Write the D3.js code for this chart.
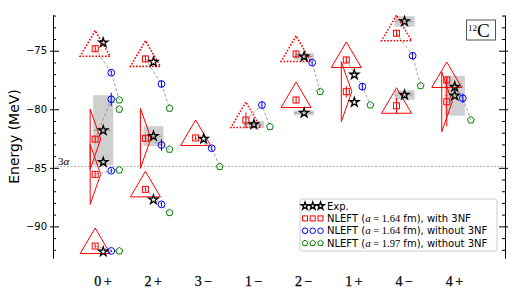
<!DOCTYPE html>
<html>
<head>
<meta charset="utf-8">
<script src="https://cdn.jsdelivr.net/npm/d3@7"></script>
<style>
  body { margin: 0; background: #fff; }
  svg { display: block; }
</style>
</head>
<body>
<div id="chart"></div>
<script>
// spin-parity categories on the x axis
const categories = ["0+", "2+", "3−", "1−", "2−", "1+", "4−", "4+"];

// experimental levels: category, energy (MeV), width (MeV)
const expCat   = [0, 0, 0, 0, 1, 1, 1, 2, 3, 4, 4, 5, 5, 6, 6, 7, 7];
const expE     = [-74.32, -81.80, -84.51, -92.16, -75.96, -82.29, -87.72, -82.52, -81.30,
                  -75.50, -80.31, -77.05, -79.40, -72.50, -78.78, -78.08, -78.84];
const expWidth = [0, 3.0, 0, 0, 0, 0.85, 0, 0, 0.3, 0.28, 0.2, 0, 0, 0.45, 0.4, 0.26, 1.7];

// NLEFT states, one entry per state (same index in every series)
const stateCat  = [0, 0, 0, 0, 1, 1, 1, 2, 3, 4, 4, 5, 5, 6, 6, 7, 7];
const with3NF   = [-74.83, -82.55, -85.56, -91.68, -75.70, -82.48, -86.84, -82.45, -80.92,
                   -75.28, -79.21, -75.79, -78.50, -73.51, -79.70, -77.50, -79.36];
const with3NFErr = [0.3, 0.3, 0.3, 0.2, 0.3, 0.3, 0.2, 0.2, 0.65, 0.3, 0.3, 0.3, 0.5, 0.3, 0.67, 0.3, 2.1];
const geometry  = ["equilateral-dotted", "obtuse", "obtuse", "equilateral",
                   "equilateral-dotted", "obtuse", "equilateral", "equilateral",
                   "equilateral-dotted", "equilateral-dotted", "equilateral",
                   "equilateral", "obtuse", "equilateral-dotted", "equilateral",
                   "equilateral", "obtuse"];
const no3NF164    = [-76.88, -79.15, -85.25, -92.10, -77.84, -83.05, -88.12, -83.33, -79.64,
                     -76.02, null, -78.07, null, -75.43, null, -79.06, null];
const no3NF164Err = [0.2, 0.57, 0.2, 0.1, 0.3, 0.5, 0.2, 0.2, 0.3, 0.2, 0, 0.3, 0, 0.3, 0, 0.4, 0];
const no3NF197    = [-79.21, -80.00, -85.19, -92.10, -79.92, -83.42, -88.83, -84.90, -81.49,
                     -78.50, null, -79.64, null, -77.99, null, -80.92, null];

const threeAlpha = -84.89;
const majorTicks = [-90, -85, -80, -75];
const minorTicks = d3.range(-92, -71, 1).filter(v => v % 5 !== 0);

const W = 532, H = 304;
const sans = "DejaVu Sans";
const serif = "Liberation Serif";

const svg = d3.select("#chart").append("svg")
  .attr("width", W)
  .attr("height", H);

const x = d3.scaleLinear().domain([-1, 8]).range([53, 505]);
const y = d3.scaleLinear().domain([-92.7, -71.95]).range([258, 15]);

// horizontal offsets of each series inside a category
const off = { nleft: -0.16, exp: 0, no164: 0.16, no197: 0.32 };

const idx = d3.range(stateCat.length);
const expIdx = d3.range(expE.length);

// grey resonance widths
const wide = expIdx.filter(i => expWidth[i] > 0);
svg.append("g").selectAll("rect")
  .data(wide)
  .join("rect")
  .attr("x", i => x(expCat[i] - 0.2))
  .attr("width", x(0.2) - x(-0.2))
  .attr("y", i => y(expE[i] + expWidth[i]))
  .attr("height", i => y(expE[i] - expWidth[i]) - y(expE[i] + expWidth[i]))
  .attr("fill", "#cfcfcf");

svg.append("g").selectAll("line")
  .data(wide)
  .join("line")
  .attr("x1", i => x(expCat[i] - 0.2))
  .attr("x2", i => x(expCat[i] + 0.2))
  .attr("y1", i => y(expE[i]))
  .attr("y2", i => y(expE[i]))
  .attr("stroke", "#888")
  .attr("stroke-width", 0.8)
  .attr("stroke-dasharray", "3,2");

// 3 alpha threshold
svg.append("line")
  .attr("x1", x(-1)).attr("x2", x(8))
  .attr("y1", y(threeAlpha)).attr("y2", y(threeAlpha))
  .attr("stroke", "#999")
  .attr("stroke-width", 0.8)
  .attr("stroke-dasharray", "2,1.5");
svg.append("text")
  .attr("x", x(-1) + 5)
  .attr("y", y(threeAlpha) - 2)
  .attr("font-family", serif)
  .attr("font-size", 11)
  .attr("fill", "#000")
  .html('3<tspan font-style="italic">α</tspan>');

// geometry triangles around the NLEFT points
function trianglePath(kind, cx, cy) {
  if (kind === "obtuse") {
    return `M${cx - 5},${cy - 30}L${cx + 5.5},${cy}L${cx - 5},${cy + 30}Z`;
  }
  return `M${cx},${cy - 18}L${cx - 15},${cy + 7.5}L${cx + 15},${cy + 7.5}Z`;
}
svg.append("g").selectAll("path")
  .data(idx)
  .join("path")
  .attr("d", i => trianglePath(geometry[i], x(stateCat[i] + off.nleft), y(with3NF[i])))
  .attr("fill", "none")
  .attr("stroke", "red")
  .attr("stroke-width", i => geometry[i].endsWith("dotted") ? 1.6 : 1)
  .attr("stroke-dasharray", i => geometry[i].endsWith("dotted") ? "1.6,1.6" : null);

// dashed links between the three NLEFT calculations
const link = d3.line().x(d => d[0]).y(d => d[1]);
svg.append("g").selectAll("path")
  .data(idx.filter(i => no3NF164[i] !== null))
  .join("path")
  .attr("d", i => link([
    [x(stateCat[i] + off.nleft), y(with3NF[i])],
    [x(stateCat[i] + off.no164), y(no3NF164[i])],
    [x(stateCat[i] + off.no197), y(no3NF197[i])]
  ]))
  .attr("fill", "none")
  .attr("stroke", "#888")
  .attr("stroke-width", 0.8)
  .attr("stroke-dasharray", "3,2");

// error bars
function errBars(ids, xOff, vals, errs, color) {
  svg.append("g").selectAll("line")
    .data(ids)
    .join("line")
    .attr("x1", i => x(stateCat[i] + xOff))
    .attr("x2", i => x(stateCat[i] + xOff))
    .attr("y1", i => y(vals[i] + errs[i]))
    .attr("y2", i => y(vals[i] - errs[i]))
    .attr("stroke", color)
    .attr("stroke-width", 1);
}
errBars(idx, off.nleft, with3NF, with3NFErr, "red");
errBars(idx.filter(i => no3NF164[i] !== null), off.no164, no3NF164, no3NF164Err, "blue");

// marker shapes
function pentagon(r) {
  const pts = d3.range(5).map(k => {
    const a = -Math.PI / 2 + k * 2 * Math.PI / 5;
    return [r * Math.cos(a), r * Math.sin(a)];
  });
  return "M" + pts.map(p => p.join(",")).join("L") + "Z";
}

function squares(g, pts, s = 6) {
  g.selectAll("rect.sq").data(pts).join("rect").attr("class", "sq")
    .attr("x", d => d[0] - s / 2).attr("y", d => d[1] - s / 2)
    .attr("width", s).attr("height", s)
    .attr("fill", "none").attr("stroke", "red").attr("stroke-width", 1);
}
function circles(g, pts, r = 3.4) {
  g.selectAll("circle").data(pts).join("circle")
    .attr("cx", d => d[0]).attr("cy", d => d[1]).attr("r", r)
    .attr("fill", "none").attr("stroke", "blue").attr("stroke-width", 1);
}
function pentagons(g, pts, r = 3.6) {
  const p = pentagon(r);
  g.selectAll("path.pent").data(pts).join("path").attr("class", "pent")
    .attr("transform", d => `translate(${d[0]},${d[1]})`)
    .attr("d", p)
    .attr("fill", "none").attr("stroke", "green").attr("stroke-width", 1);
}
function stars(g, pts, size = 26) {
  const p = d3.symbol().type(d3.symbolStar).size(size)();
  g.selectAll("path.star").data(pts).join("path").attr("class", "star")
    .attr("transform", d => `translate(${d[0]},${d[1]})`)
    .attr("d", p)
    .attr("fill", "none").attr("stroke", "black").attr("stroke-width", 1.3);
}

squares(svg.append("g"), idx.map(i => [x(stateCat[i] + off.nleft), y(with3NF[i])]));
circles(svg.append("g"), idx.filter(i => no3NF164[i] !== null)
  .map(i => [x(stateCat[i] + off.no164), y(no3NF164[i])]));
pentagons(svg.append("g"), idx.filter(i => no3NF197[i] !== null)
  .map(i => [x(stateCat[i] + off.no197), y(no3NF197[i])]));
stars(svg.append("g"), expIdx.map(i => [x(expCat[i] + off.exp), y(expE[i])]));

// axes (left and right spines only)
const left = svg.append("g").attr("transform", `translate(${x(-1)},0)`)
  .call(d3.axisLeft(y).tickValues(majorTicks).tickSize(-6).tickSizeOuter(0).tickPadding(6));
left.selectAll(".tick line").attr("x1", -3);
svg.append("g").attr("transform", `translate(${x(-1)},0)`)
  .call(d3.axisLeft(y).tickValues(minorTicks).tickSize(-3).tickSizeOuter(0).tickFormat(""));
const right = svg.append("g").attr("transform", `translate(${x(8)},0)`)
  .call(d3.axisRight(y).tickValues(majorTicks).tickSize(-6).tickSizeOuter(0).tickFormat(""));
right.selectAll(".tick line").attr("x1", 3);
svg.append("g").attr("transform", `translate(${x(8)},0)`)
  .call(d3.axisRight(y).tickValues(minorTicks).tickSize(-3).tickSizeOuter(0).tickFormat(""));
svg.selectAll(".domain").attr("stroke", "#000").attr("stroke-width", 1);
left.selectAll("text").attr("font-family", sans).attr("font-size", 10).attr("fill", "#000");

svg.append("text")
  .attr("transform", `translate(19,${(y.range()[0] + y.range()[1]) / 2}) rotate(-90)`)
  .attr("text-anchor", "middle")
  .attr("font-family", sans)
  .attr("font-size", 14)
  .attr("fill", "#000")
  .text("Energy (MeV)");

// category labels: number then parity sign with a small gap
const catLabels = svg.append("g")
  .attr("font-family", serif)
  .attr("font-size", 14);
catLabels.selectAll("text")
  .data(categories)
  .join("text")
  .attr("x", (d, i) => x(i) - 9)
  .attr("y", 286)
  .attr("fill", "#000")
  .attr("stroke", "#000")
  .attr("stroke-width", 0.25)
  .each(function (d) {
    const t = d3.select(this);
    t.append("tspan").text(d[0]);
    t.append("tspan").attr("dx", 2.5).text(d.slice(1));
  });

// 12C label
svg.append("rect")
  .attr("x", 466.5).attr("y", 20).attr("width", 29).attr("height", 20)
  .attr("fill", "#fff").attr("stroke", "#555").attr("stroke-width", 1);
svg.append("text")
  .attr("x", 468).attr("y", 37)
  .attr("font-family", serif)
  .attr("fill", "#000")
  .html('<tspan font-size="9" dy="-6">12</tspan><tspan font-size="19" dy="6">C</tspan>');

// legend
const legendRows = [
  { kind: "star", label: ["Exp."] },
  { kind: "square", label: ["NLEFT (", "a", " = ", "1.64", " fm), with 3NF"] },
  { kind: "circle", label: ["NLEFT (", "a", " = ", "1.64", " fm), without 3NF"] },
  { kind: "pent", label: ["NLEFT (", "a", " = ", "1.97", " fm), without 3NF"] }
];
const legend = svg.append("g");
legend.append("rect")
  .attr("x", 300).attr("y", 199).attr("width", 197).attr("height", 52).attr("rx", 2)
  .attr("fill", "#fff").attr("fill-opacity", 0.8)
  .attr("stroke", "#ccc").attr("stroke-width", 1);
legendRows.forEach((row, r) => {
  const ly = 206 + r * 12.4;
  const pts = [305, 312.7, 320.5].map(px => [px, ly]);
  const g = legend.append("g");
  if (row.kind === "star") stars(g, pts, 18);
  if (row.kind === "square") squares(g, pts, 5);
  if (row.kind === "circle") circles(g, pts, 2.8);
  if (row.kind === "pent") pentagons(g, pts, 3);
  const t = legend.append("text")
    .attr("x", 327).attr("y", ly + 3.6)
    .attr("font-family", sans).attr("font-size", 10)
    .attr("fill", "#000")
    .attr("xml:space", "preserve");
  row.label.forEach((s, k) => {
    const ts = t.append("tspan").text(s);
    if (k === 1) ts.attr("font-family", serif).attr("font-style", "italic").attr("font-size", 11);
    if (k === 2 || k === 3) ts.attr("font-family", serif).attr("font-size", 10.5);
  });
});
</script>
</body>
</html>
